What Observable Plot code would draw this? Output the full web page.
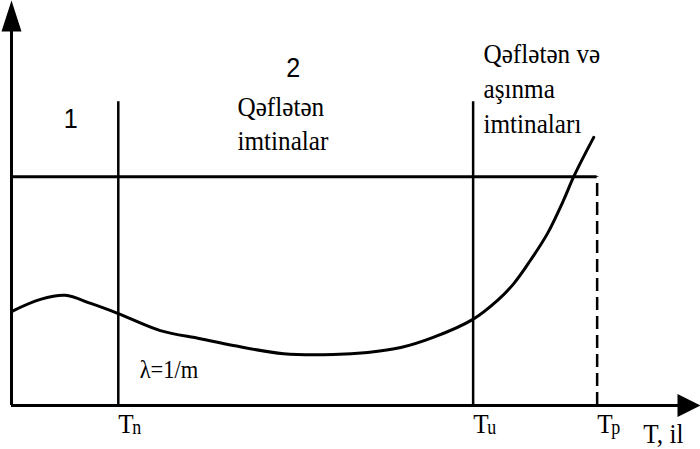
<!DOCTYPE html>
<html>
<head>
<meta charset="utf-8">
<script src="https://cdn.jsdelivr.net/npm/d3@7"></script>
<script src="https://cdn.jsdelivr.net/npm/@observablehq/plot@0.6"></script>
<style>
  html, body { margin: 0; padding: 0; background: #fff; }
  #chart { width: 700px; height: 449px; }
</style>
</head>
<body>
<div id="chart"></div>
<script>
// Bathtub curve: failure rate over time (abstract units)
const years = [0, 4.2, 7.8, 11.5, 15.5, 21.6, 27.4, 32.2, 39.5, 46.7, 51.7, 56.5, 61.2, 66.9, 70.5, 72.9, 75.3, 77.8, 80.1, 81.6, 84.5];
const rate  = [23.2, 26.2, 27.2, 25.2, 22.7, 18.5, 16.5, 14.8, 12.8, 12.6, 13.1, 14.3, 16.8, 21.2, 25.9, 30.1, 35.8, 42.5, 50.6, 56.5, 66.2];
const milestoneNames = ["n", "u", "p"];
const milestoneValues = [15.5, 67, 85];
const level = 56.5;
const markerTop = 75;
const axisXEnd = 100;
const axisYEnd = 100;
const middleLines = ["Qəflətən", "imtinalar"];
const rightLines = ["Qəflətən və", "aşınma", "imtinaları"];

const curveData = years.map((x, i) => ({x, y: rate[i]}));
const milestones = milestoneNames.map((s, i) => ({sub: s, x: milestoneValues[i]}));
const middleData = middleLines.map((s, i) => ({s, k: middleLines.length - 1 - i}));
const rightData = rightLines.map((s, i) => ({s, k: rightLines.length - 1 - i}));

const arrowUp = { draw(ctx) { ctx.moveTo(0, 0); ctx.lineTo(-10, 31); ctx.lineTo(10, 31); ctx.closePath(); } };
const arrowRight = { draw(ctx) { ctx.moveTo(0, 0); ctx.lineTo(-23, -11.5); ctx.lineTo(-23, 11.5); ctx.closePath(); } };

const serif = "Liberation Serif, DejaVu Serif, serif";
const sans = "Liberation Sans, Arial, sans-serif";

const svg = Plot.plot({
  width: 700,
  height: 449,
  margin: 0,
  x: {domain: [0, axisXEnd], range: [11, 700], axis: null},
  y: {domain: [0, axisYEnd], range: [405, 0], axis: null},
  style: {background: "#fff", overflow: "visible"},
  marks: [
    Plot.ruleY([0], {x1: 0, x2: axisXEnd - 3, stroke: "#000", strokeWidth: 3}),
    Plot.ruleX([0], {y1: 0, y2: axisYEnd - 5, stroke: "#000", strokeWidth: 3}),
    Plot.dot([{x: axisXEnd, y: 0}], {x: "x", y: "y", symbol: arrowRight, fill: "#000", stroke: null}),
    Plot.dot([{x: 0, y: axisYEnd}], {x: "x", y: "y", symbol: arrowUp, fill: "#000", stroke: null}),
    Plot.ruleY([level], {x1: 0, x2: milestoneValues[2], stroke: "#000", strokeWidth: 3}),
    Plot.ruleX(milestoneValues.slice(0, 2), {y1: 0, y2: markerTop, stroke: "#000", strokeWidth: 2.5}),
    Plot.ruleX([milestoneValues[2]], {y1: 0, y2: level, stroke: "#000", strokeWidth: 2.5, strokeDasharray: "13,6"}),
    Plot.line(curveData, {x: "x", y: "y", curve: "catmull-rom", stroke: "#000", strokeWidth: 3}),
    Plot.text(milestones, {x: "x", y: 0, text: () => "T", dy: 27, textAnchor: "start", lineAnchor: "bottom", fontFamily: serif, fontSize: 28, fill: "#000"}),
    Plot.text(milestones, {x: "x", y: 0, text: "sub", dx: 14, dy: 28, textAnchor: "start", lineAnchor: "bottom", fontFamily: serif, fontSize: 20, fill: "#000"}),
    Plot.text(["T, il"], {x: 91.7, y: 0, dy: 37, textAnchor: "start", lineAnchor: "bottom", fontFamily: serif, fontSize: 28, fill: "#000"}),
    Plot.text(["1"], {x: 8.6, y: 68.6, textAnchor: "middle", lineAnchor: "bottom", fontFamily: sans, fontSize: 28, fill: "#000"}),
    Plot.text(["2"], {x: 40.9, y: 81, textAnchor: "middle", lineAnchor: "bottom", fontFamily: sans, fontSize: 28, fill: "#000"}),
    // line k counts up from the last line; 34px / 35px line spacing = 8.4 / 8.64 y-units
    Plot.text(middleData, {x: 32.8, y: d => 63 + d.k * 8.4, text: "s", textAnchor: "start", lineAnchor: "bottom", fontFamily: serif, fontSize: 28, fill: "#000"}),
    Plot.text(rightData, {x: 68.5, y: d => 67.2 + d.k * 8.64, text: "s", textAnchor: "start", lineAnchor: "bottom", fontFamily: serif, fontSize: 28, fill: "#000"}),
    Plot.text(["λ=1/m"], {x: 18.6, y: 6.9, textAnchor: "start", lineAnchor: "bottom", fontFamily: serif, fontSize: 25, fill: "#000"})
  ]
});

// narrow glyphs horizontally like the reference
d3.select(svg).selectAll("text").each(function () {
  const t = this.getAttribute("transform");
  if (t) this.setAttribute("transform", t + " scale(0.9,1)");
});

document.getElementById("chart").appendChild(svg);
</script>
</body>
</html>
